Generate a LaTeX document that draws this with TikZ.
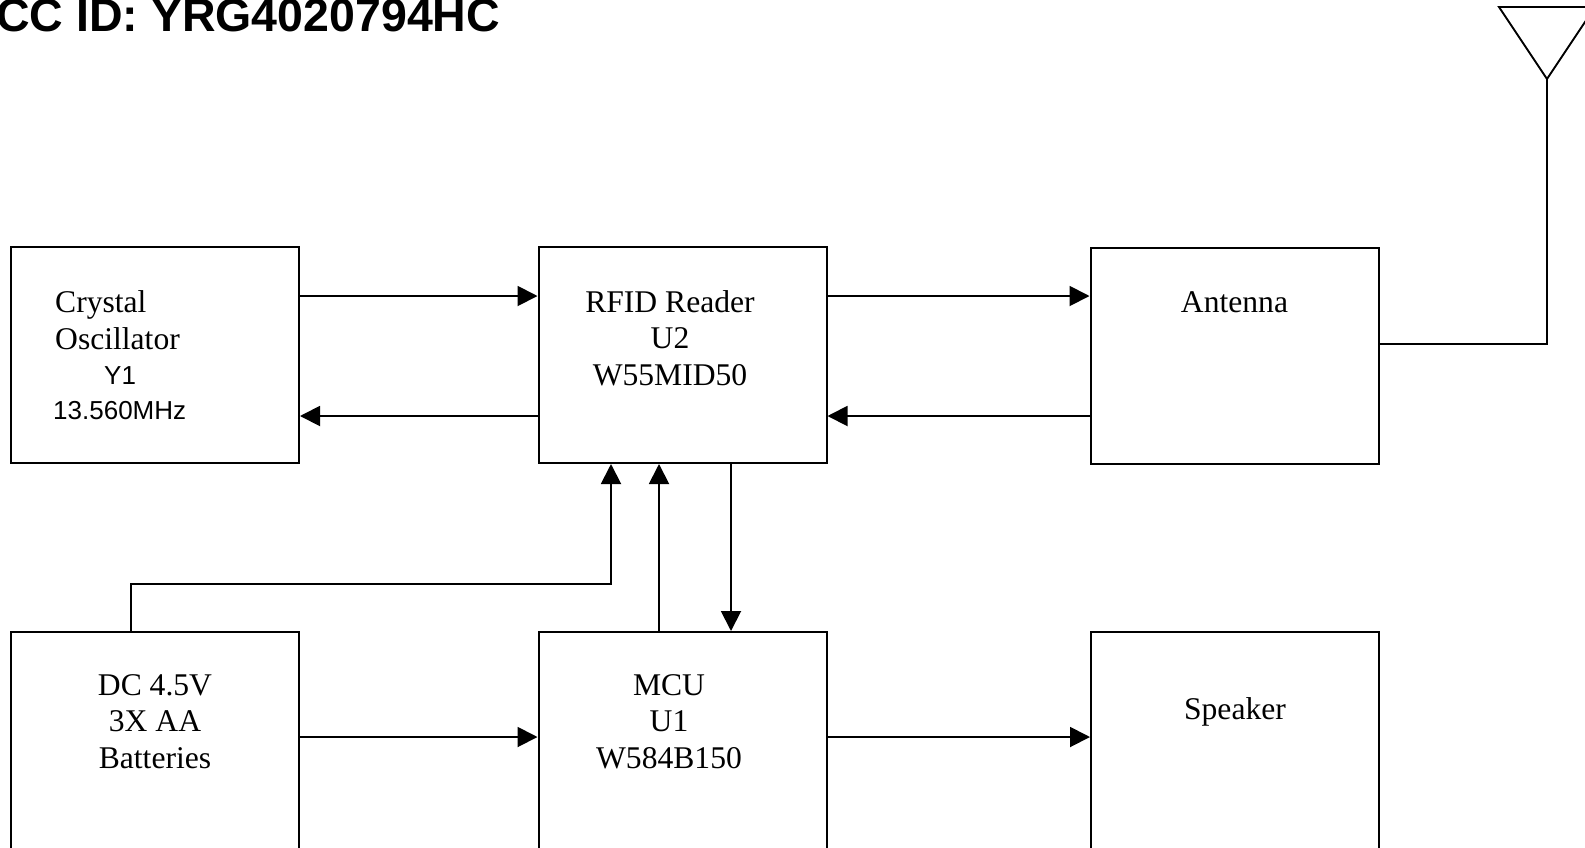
\documentclass[tikz,border=0pt]{standalone}
\usepackage{fontspec}
\setmainfont{Liberation Serif}
\newfontfamily\arialfont{Liberation Sans}
\usetikzlibrary{arrows.meta, positioning}

\begin{document}
\begin{tikzpicture}[x=1pt, y=-1pt,
  blk/.style={draw, line width=2pt, minimum width=288pt, minimum height=216pt, inner sep=0pt},
  tallblk/.style={blk, minimum height=240pt},
  arr/.style={line width=1.9pt, -{Triangle[length=20pt, width=20pt]}},
  wire/.style={line width=1.9pt},
  lbl/.style={font=\fontsize{31.6}{36.4}\selectfont, inner sep=0pt, anchor=base, align=center},
  sans/.style={font=\arialfont\fontsize{26}{36.4}\selectfont, inner sep=0pt, anchor=base west}]
\useasboundingbox (0,0) rectangle (1585,847);
\clip (0,0) rectangle (1585,847);

% title
\node[anchor=base west, inner sep=0pt, font=\arialfont\bfseries\fontsize{46.5}{50}\selectfont] (fcc) at (-4,31) {CC ID: YRG4020794HC};

% blocks
\node[blk] (xtal) at (155,355) {};
\node[blk] (rfid) at (682.5,355) {};
\node[blk] (ant) at (1234.5,355.5) {};
\node[tallblk] (batt) at (155,752) {};
\node[tallblk] (mcu) at (682.5,752) {};
\node[tallblk] (spk) at (1235,752) {};

% texts (base = last line)
\node[lbl, anchor=base west, align=left] (xtalname) at (55,349) {Crystal\\Oscillator};
\node[sans] (xtalref) at (104,384) {Y1};
\node[sans] (xtalfreq) at (53,419) {13.560MHz};
\node[lbl] (rfidtxt) at (670,385) {RFID Reader\\U2\\W55MID50};
\node[lbl] (anttxt) at (1234.5,312) {Antenna};
\node[lbl] (batttxt) at (155,768) {DC 4.5V\\3X AA\\Batteries};
\node[lbl] (mcutxt) at (669,768) {MCU\\U1\\W584B150};
\node[lbl] (spktxt) at (1235,719) {Speaker};

% connectors
\draw[arr] (xtal.east |- 0,296) -- (rfid.west |- 0,296);
\draw[arr] (rfid.west |- 0,416) -- (xtal.east |- 0,416);
\draw[arr] (rfid.east |- 0,296) -- (ant.west |- 0,296);
\draw[arr] (ant.west |- 0,416) -- (rfid.east |- 0,416);
\draw[arr] (batt.east |- 0,737) -- (mcu.west |- 0,737);
\draw[arr] (mcu.east |- 0,737) -- (spk.west |- 0,737);

\coordinate (pwr) at (611,584);
\draw[arr] (batt.north -| 131,0) |- (pwr) -- (pwr |- rfid.south);
\draw[arr] (mcu.north -| 659,0) -- (rfid.south -| 659,0);
\draw[arr] (rfid.south -| 731,0) -- (mcu.north -| 731,0);

% aerial
\coordinate (tip) at (1547,79);
\draw[wire] (ant.east |- 0,344) -| (tip);
\draw[wire, line join=miter] (tip) -- (1499,7) -- (1595,7) -- cycle;
\end{tikzpicture}
\end{document}
